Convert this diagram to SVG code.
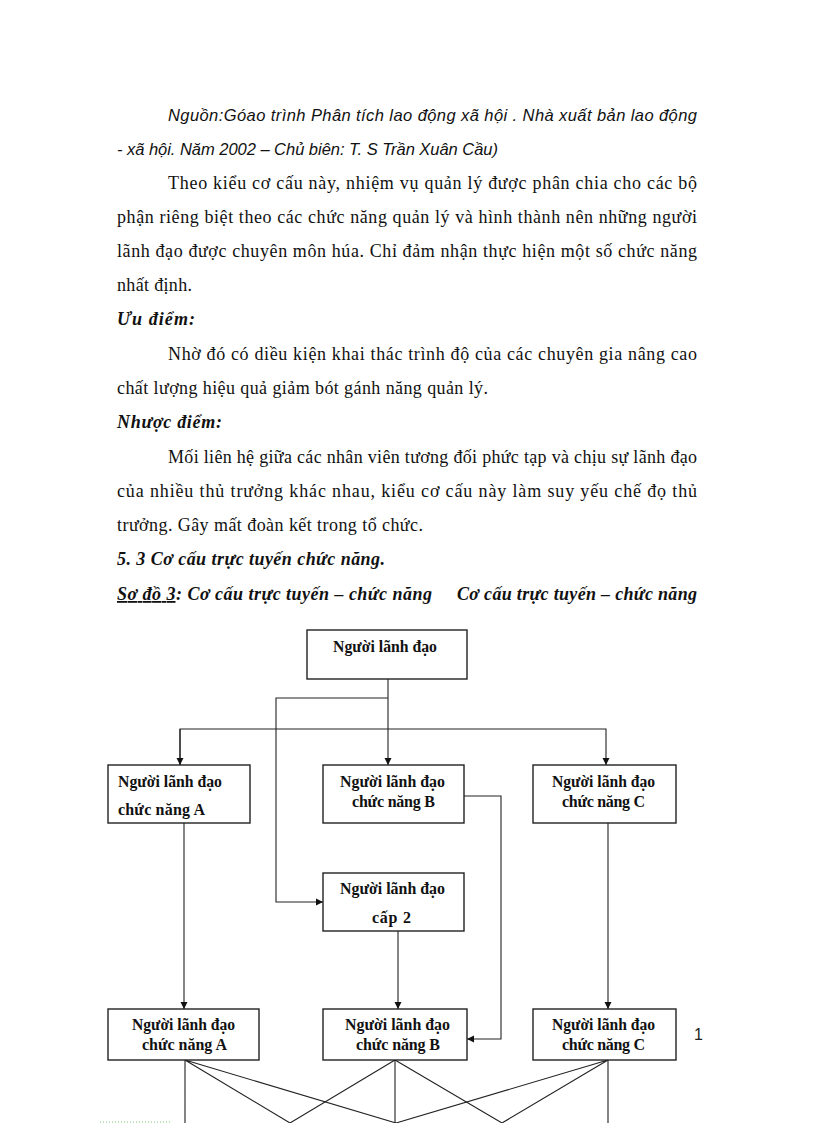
<svg xmlns="http://www.w3.org/2000/svg" width="816" height="1123" viewBox="0 0 816 1123">
<style>
.body{font-family:"Liberation Serif","Times New Roman",serif;font-size:18px;fill:#111}
.src{font-family:"Liberation Sans",Arial,sans-serif;font-size:16.5px;font-style:italic;fill:#111}
.hd{font-family:"Liberation Serif","Times New Roman",serif;font-size:18px;font-weight:bold;font-style:italic;fill:#111}
.box{fill:#fff;stroke:#222;stroke-width:1.4}
.lbl{font-family:"Liberation Serif","Times New Roman",serif;font-size:16px;font-weight:bold;fill:#111}
.cn{fill:none;stroke:#222;stroke-width:1.1}
.pg{font-family:"Liberation Sans",Arial,sans-serif;font-size:16px;fill:#222}
</style>
<defs>
<marker id="ah" viewBox="0 0 10 10" refX="10" refY="5" markerWidth="7" markerHeight="8" markerUnits="userSpaceOnUse" orient="auto">
<path d="M0,0 L10,5 L0,10 Z" fill="#111"/>
</marker>
</defs>
<rect width="816" height="1123" fill="#fff"/>

<g id="text">
<text class="src" x="168" y="121" textLength="529" lengthAdjust="spacing">Nguồn:Góao trình  Phân tích lao động xã hội . Nhà xuất bản lao động</text>
<text class="src" x="117" y="155" textLength="381" lengthAdjust="spacing">- xã hội. Năm 2002 – Chủ biên: T. S Trần Xuân Cầu)</text>
<text class="body" x="168" y="189" textLength="529" lengthAdjust="spacing">Theo kiểu cơ cấu này, nhiệm vụ quản lý được phân chia cho các bộ</text>
<text class="body" x="117" y="223" textLength="580" lengthAdjust="spacing">phận riêng biệt theo các chức năng quản lý và hình thành nên những người</text>
<text class="body" x="117" y="257" textLength="580" lengthAdjust="spacing">lãnh đạo được chuyên môn húa. Chỉ đảm nhận thực hiện một số chức năng</text>
<text class="body" x="117" y="291" textLength="75" lengthAdjust="spacing">nhất định.</text>
<text class="hd" x="117" y="325" textLength="78" lengthAdjust="spacing">Ưu điểm:</text>
<text class="body" x="168" y="360" textLength="529" lengthAdjust="spacing">Nhờ đó có diều kiện khai thác trình độ của các chuyên gia nâng cao</text>
<text class="body" x="117" y="394" textLength="371" lengthAdjust="spacing">chất lượng hiệu quả giảm bót gánh năng quản lý.</text>
<text class="hd" x="117" y="428" textLength="105" lengthAdjust="spacing">Nhược điểm:</text>
<text class="body" x="168" y="463" textLength="529" lengthAdjust="spacing">Mối liên hệ giữa các nhân viên tương đối phức tạp và chịu sự lãnh đạo</text>
<text class="body" x="117" y="497" textLength="580" lengthAdjust="spacing">của nhiều thủ trưởng khác nhau, kiểu cơ cấu này làm suy yếu chế đọ thủ</text>
<text class="body" x="117" y="531" textLength="306" lengthAdjust="spacing">trưởng. Gây mất đoàn kết trong tổ chức.</text>
<text class="hd" x="117" y="565" textLength="268" lengthAdjust="spacing">5. 3 Cơ cấu trực tuyến chức năng.</text>
<text class="hd" x="117" y="600" textLength="315" lengthAdjust="spacing"><tspan text-decoration="underline">Sơ đồ 3</tspan>: Cơ cấu trực tuyến – chức năng</text>
<text class="hd" x="457" y="600" textLength="240" lengthAdjust="spacing">Cơ cấu trực tuyến – chức năng</text>
<text class="pg" x="694" y="1040">1</text>
</g>

<g id="connectors">
<path class="cn" d="M388,679 V765" marker-end="url(#ah)"/>
<path class="cn" d="M180,765 V729 H606 V765" marker-end="url(#ah)"/>
<path class="cn" d="M180,729 V765" marker-end="url(#ah)"/>
<path class="cn" d="M388,698 H276 V902 H323" marker-end="url(#ah)"/>
<path class="cn" d="M184,823 V1009" marker-end="url(#ah)"/>
<path class="cn" d="M398,931 V1009" marker-end="url(#ah)"/>
<path class="cn" d="M608,823 V1009" marker-end="url(#ah)"/>
<path class="cn" d="M464,796 H501 V1039 H467" marker-end="url(#ah)"/>
<path class="cn" d="M185,1060 V1123 M185,1060 L290,1123 M185,1060 L396,1123"/>
<path class="cn" d="M395,1060 L290,1123 M395,1060 V1123 M395,1060 L502,1123"/>
<path class="cn" d="M608,1060 V1123 M608,1060 L396,1123 M608,1060 L502,1123"/>
<line x1="100" y1="1122" x2="172" y2="1122" stroke="#7c7" stroke-width="1" stroke-dasharray="1,2"/>
</g>

<g id="n-top">
<rect class="box" x="307" y="630" width="160" height="49"/>
<text class="lbl" x="333" y="652" textLength="104" lengthAdjust="spacingAndGlyphs">Người lãnh đạo</text>
</g>
<g id="n-a1">
<rect class="box" x="108" y="765" width="142" height="58"/>
<text class="lbl" x="118" y="787" textLength="104" lengthAdjust="spacingAndGlyphs">Người lãnh đạo</text>
<text class="lbl" x="118" y="815" textLength="87" lengthAdjust="spacing">chức năng A</text>
</g>
<g id="n-b1">
<rect class="box" x="323" y="765" width="141" height="58"/>
<text class="lbl" x="340" y="787" textLength="105" lengthAdjust="spacingAndGlyphs">Người lãnh đạo</text>
<text class="lbl" x="352" y="807" textLength="83" lengthAdjust="spacing">chức năng B</text>
</g>
<g id="n-c1">
<rect class="box" x="533" y="765" width="143" height="58"/>
<text class="lbl" x="552" y="787" textLength="103" lengthAdjust="spacingAndGlyphs">Người lãnh đạo</text>
<text class="lbl" x="562" y="807" textLength="83" lengthAdjust="spacing">chức năng C</text>
</g>
<g id="n-cap2">
<rect class="box" x="323" y="873" width="141" height="58"/>
<text class="lbl" x="340" y="894" textLength="105" lengthAdjust="spacingAndGlyphs">Người lãnh đạo</text>
<text class="lbl" x="372" y="923" textLength="39" lengthAdjust="spacing">cấp 2</text>
</g>
<g id="n-a2">
<rect class="box" x="108" y="1009" width="151" height="51"/>
<text class="lbl" x="132" y="1030" textLength="103" lengthAdjust="spacingAndGlyphs">Người lãnh đạo</text>
<text class="lbl" x="142" y="1050" textLength="85" lengthAdjust="spacing">chức năng A</text>
</g>
<g id="n-b2">
<rect class="box" x="323" y="1009" width="144" height="51"/>
<text class="lbl" x="345" y="1030" textLength="105" lengthAdjust="spacingAndGlyphs">Người lãnh đạo</text>
<text class="lbl" x="356" y="1050" textLength="84" lengthAdjust="spacing">chức năng B</text>
</g>
<g id="n-c2">
<rect class="box" x="533" y="1009" width="143" height="51"/>
<text class="lbl" x="552" y="1030" textLength="103" lengthAdjust="spacingAndGlyphs">Người lãnh đạo</text>
<text class="lbl" x="562" y="1050" textLength="83" lengthAdjust="spacing">chức năng C</text>
</g>
</svg>
